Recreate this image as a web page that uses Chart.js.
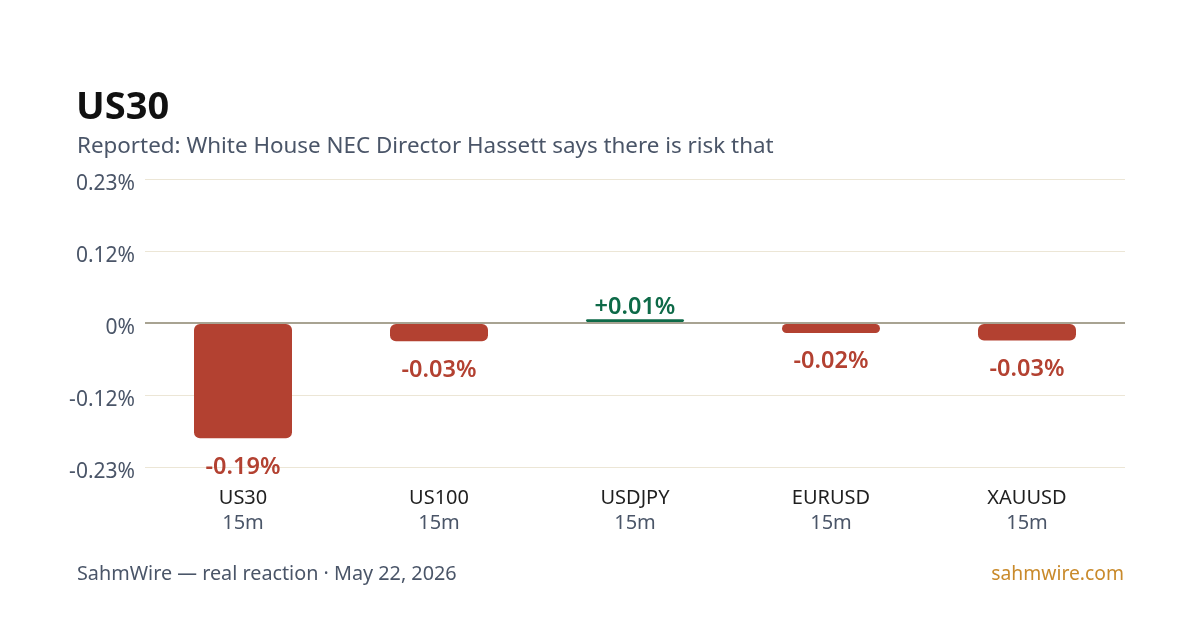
<!DOCTYPE html>
<html>
<head>
<meta charset="utf-8">
<script src="https://cdn.jsdelivr.net/npm/chart.js@4.4.1/dist/chart.umd.min.js"></script>
<style>
  html, body { margin: 0; padding: 0; background: #ffffff; }
  body { width: 1200px; height: 630px; position: relative; overflow: hidden; font-family: "Noto Sans", "Open Sans", sans-serif; }
  #wrap { position: absolute; left: 0; top: 0; width: 1200px; height: 630px; }
  .t { position: absolute; white-space: nowrap; }
  #title { left: 76px; top: 80px; font-size: 38px; font-weight: 700; color: #111111; line-height: 48px; }
  #subtitle { left: 77px; top: 130px; font-size: 22.4px; color: #4a5568; line-height: 30px; }
  #foot { left: 77px; top: 560px; font-size: 19.8px; color: #4a5568; line-height: 26px; }
  #site { right: 76px; top: 560px; font-size: 19.3px; color: #c98a2b; line-height: 26px; }
</style>
</head>
<body>
<div id="wrap"><canvas id="c" width="1200" height="630"></canvas></div>
<div class="t" id="title">US30</div>
<div class="t" id="subtitle">Reported: White House NEC Director Hassett says there is risk that</div>
<div class="t" id="foot">SahmWire — real reaction · May 22, 2026</div>
<div class="t" id="site">sahmwire.com</div>
<script>
const categories = ["US30", "US100", "USDJPY", "EURUSD", "XAUUSD"];
const timeframes = ["15m", "15m", "15m", "15m", "15m"];
const values = [-0.184, -0.029, 0.006, -0.016, -0.028];
const valueLabels = ["-0.19%", "-0.03%", "+0.01%", "-0.02%", "-0.03%"];
const yTicks = [-0.23, -0.115, 0, 0.115, 0.23];
const yTickLabels = ["-0.23%", "-0.12%", "0%", "0.12%", "0.23%"];

const RED = "#b34131";
const GREEN = "#0e6a48";
const FONT = '"Noto Sans", "Open Sans", sans-serif';

const valueLabelPlugin = {
  id: "valueLabels",
  afterDatasetsDraw(chart) {
    const ctx = chart.ctx;
    const meta = chart.getDatasetMeta(0);
    ctx.save();
    ctx.font = "600 23.5px " + FONT;
    ctx.textAlign = "center";
    meta.data.forEach((bar, i) => {
      const v = values[i];
      const p = bar.getProps(["x", "y", "base"], true);
      if (v >= 0) {
        ctx.fillStyle = GREEN;
        ctx.textBaseline = "bottom";
        ctx.fillText(valueLabels[i], p.x, Math.min(p.y, p.base));
      } else {
        ctx.fillStyle = RED;
        ctx.textBaseline = "top";
        ctx.fillText(valueLabels[i], p.x, Math.max(p.y, p.base) + 17);
      }
    });
    ctx.restore();
  }
};

new Chart(document.getElementById("c"), {
  type: "bar",
  data: {
    labels: categories,
    datasets: [{
      data: values,
      backgroundColor: values.map(v => v >= 0 ? GREEN : RED),
      borderRadius: 6,
      borderSkipped: false,
      barPercentage: 0.5,
      categoryPercentage: 1.0
    }]
  },
  options: {
    responsive: false,
    animation: false,
    devicePixelRatio: 1,
    layout: { padding: { left: 60, right: 75, top: 179, bottom: 95 } },
    plugins: { legend: { display: false }, tooltip: { enabled: false } },
    scales: {
      x: {
        position: "bottom",
        afterFit(scale) { scale.height = 44; },
        grid: { display: false, drawTicks: false },
        border: { display: false },
        ticks: { color: "#1f1f1f", font: { family: FONT, size: 20 }, padding: 19, maxRotation: 0 }
      },
      x2: {
        type: "category",
        labels: timeframes.map((t, i) => t),
        position: "bottom",
        afterFit(scale) { scale.height = 24; },
        grid: { display: false, drawTicks: false },
        border: { display: false },
        ticks: {
          color: "#4a5568", font: { family: FONT, size: 20 }, padding: 0, maxRotation: 0,
          callback: (val, idx) => timeframes[idx]
        }
      },
      y: {
        min: -0.23,
        max: 0.23,
        afterFit(scale) { scale.width = 85; },
        afterBuildTicks(scale) { scale.ticks = yTicks.map(v => ({ value: v })); },
        grid: {
          drawTicks: false,
          color: c => (c.tick && c.tick.value === 0) ? "#a8a392" : "#ece6d6",
          lineWidth: c => (c.tick && c.tick.value === 0) ? 2 : 1
        },
        border: { display: false },
        ticks: {
          color: "#4a5568",
          font: { family: FONT, size: 21 },
          padding: 10,
          labelOffset: 5,
          callback: (val) => yTickLabels[yTicks.indexOf(val)]
        }
      }
    }
  },
  plugins: [valueLabelPlugin]
});
</script>
</body>
</html>
